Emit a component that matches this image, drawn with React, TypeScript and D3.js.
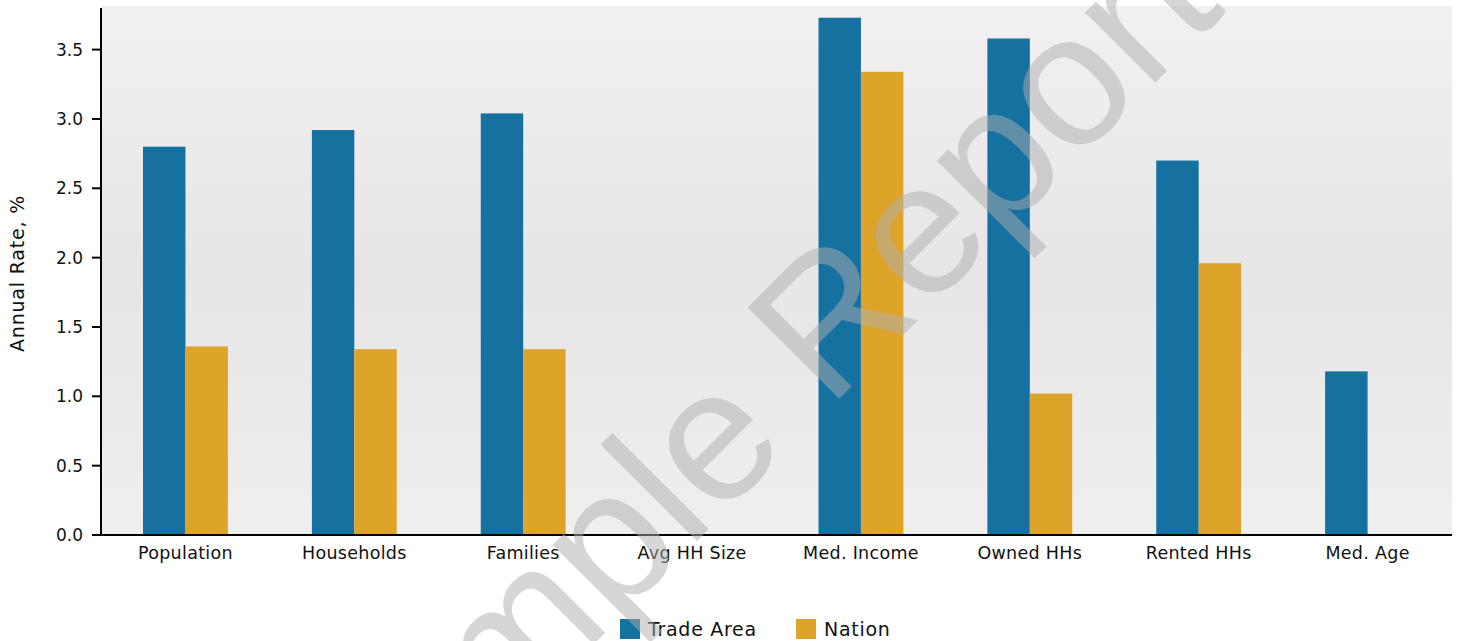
import React from "react";
import * as d3 from "d3";

const categories = ["Population", "Households", "Families", "Avg HH Size", "Med. Income", "Owned HHs", "Rented HHs", "Med. Age"];
const seriesNames = ["Trade Area", "Nation"];
const tradeArea = [2.8, 2.92, 3.04, 0, 3.73, 3.58, 2.7, 1.18];
const nation = [1.36, 1.34, 1.34, 0, 3.34, 1.02, 1.96, 0];
const yTicks = [0, 0.5, 1.0, 1.5, 2.0, 2.5, 3.0, 3.5];
const colors = ["#1471A0", "#DEA42A"];
const yLabel = "Annual Rate, %";
const watermark = "Sample Report";

const W = 1457;
const H = 641;
const left = 101;
const right = 1452;
const top = 8;
const bottom = 535;

export default function App() {
  const x = d3.scaleBand<string>().domain(categories).range([left, right]).paddingInner(0).paddingOuter(0);
  const xs = d3.scaleBand<string>().domain(seriesNames).range([0, x.bandwidth()]).paddingInner(0).paddingOuter(0.99);
  const y = d3.scaleLinear().domain([0, 3.8]).range([bottom, top]);
  const values = [tradeArea, nation];
  const font = "'DejaVu Sans', Verdana, sans-serif";

  return (
    <svg width={W} height={H} style={{ position: "absolute", left: 0, top: 0 }} xmlns="http://www.w3.org/2000/svg">
      <defs>
        <linearGradient id="bg" x1="0" y1="0" x2="0" y2="1">
          <stop offset="0" stopColor="#f1f1f1" />
          <stop offset="0.5" stopColor="#e6e6e6" />
          <stop offset="1" stopColor="#efefef" />
        </linearGradient>
      </defs>
      <rect x={left} y={6} width={right - left} height={bottom - 6} fill="url(#bg)" />
      {categories.map((c, i) => (
        <g key={c}>
          {seriesNames.map((s, j) =>
            values[j][i] > 0 ? (
              <rect
                key={s}
                x={(x(c) as number) + (xs(s) as number)}
                y={y(values[j][i])}
                width={xs.bandwidth()}
                height={bottom - y(values[j][i])}
                fill={colors[j]}
              />
            ) : null
          )}
          <text
            x={(x(c) as number) + x.bandwidth() / 2}
            y={559}
            textAnchor="middle"
            fontFamily={font}
            fontSize={17.5}
            letterSpacing={0.3}
            fill="#111"
          >
            {c}
          </text>
        </g>
      ))}
      {/* axes */}
      <line x1={left} x2={left} y1={top} y2={bottom + 1} stroke="#000" strokeWidth={2} />
      <line x1={92} x2={right} y1={bottom} y2={bottom} stroke="#000" strokeWidth={2} />
      {yTicks.map((t) => (
        <g key={t}>
          <line x1={92} x2={left} y1={y(t)} y2={y(t)} stroke="#000" strokeWidth={2} />
          <text x={83} y={y(t)} dy="0.36em" textAnchor="end" fontFamily={font} fontSize={17} fill="#111">
            {t.toFixed(1)}
          </text>
        </g>
      ))}
      <text
        transform={`translate(24,${(top + bottom) / 2 + 2}) rotate(-90)`}
        textAnchor="middle"
        fontFamily={font}
        fontSize={19}
        letterSpacing={0.8}
        fill="#111"
      >
        {yLabel}
      </text>
      {/* legend */}
      {seriesNames.map((s, j) => {
        const lx = [620, 796][j];
        return (
          <g key={s}>
            <rect x={lx} y={619} width={20} height={20} fill={colors[j]} />
            <text x={lx + 28} y={636} fontFamily={font} fontSize={19} letterSpacing={0.7} fill="#111">
              {s}
            </text>
          </g>
        );
      })}
      {/* watermark */}
      <text
        transform="translate(784,454) rotate(-45)"
        textAnchor="middle"
        fontFamily="'Liberation Sans', Arial, sans-serif"
        fontSize={188}
        fill="#adadad"
        fillOpacity={0.5}
      >
        {watermark}
      </text>
    </svg>
  );
}
